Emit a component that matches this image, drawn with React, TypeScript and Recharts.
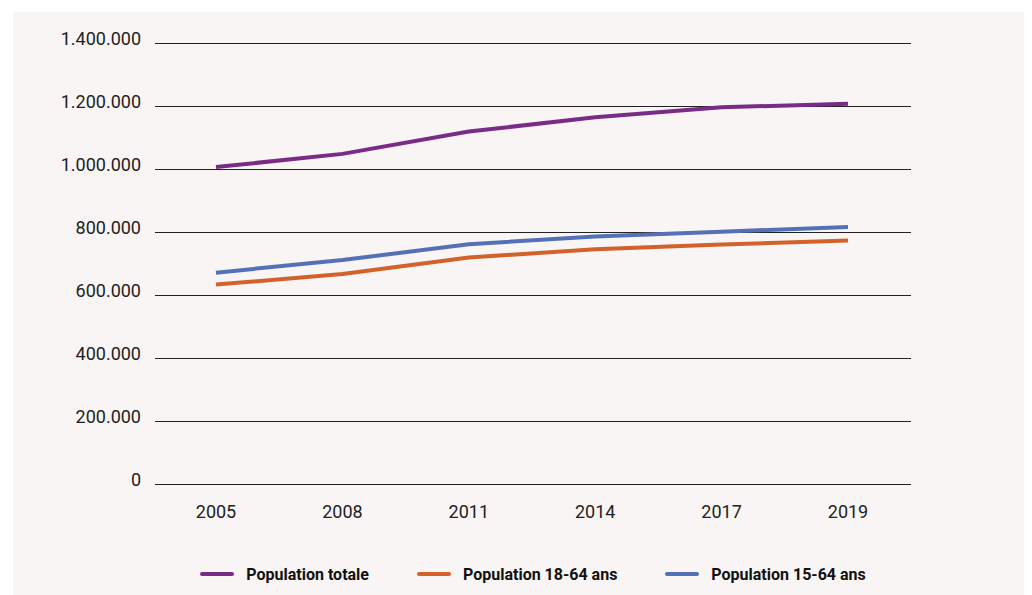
import { LineChart, Line, XAxis, YAxis, CartesianGrid, Legend } from "recharts"

const years = ["2005", "2008", "2011", "2014", "2017", "2019"]
const populationTotale = [1006000, 1048000, 1119000, 1164000, 1196000, 1207000]
const population1864 = [633000, 667000, 719000, 745000, 760000, 773000]
const population1564 = [671000, 711000, 761000, 786000, 801000, 816000]
const yTicks = [0, 200000, 400000, 600000, 800000, 1000000, 1200000, 1400000]

const series = [
    { key: "totale", name: "Population totale", color: "#7a2b86" },
    { key: "p1864", name: "Population 18-64 ans", color: "#d2622a" },
    { key: "p1564", name: "Population 15-64 ans", color: "#5470b6" },
]

const data = years.map((year, i) => ({
    year,
    totale: populationTotale[i],
    p1864: population1864[i],
    p1564: population1564[i],
}))

const formatNumber = (v: number) =>
    String(v).replace(/\B(?=(\d{3})+(?!\d))/g, ".")

const font = "Roboto, 'Liberation Sans', sans-serif"

function YTick(props: any) {
    const { x, y, payload } = props
    return (
        <text
            x={x}
            y={y}
            dy={1.5}
            textAnchor="end"
            fontSize={18}
            fontFamily={font}
            fill="#222"
        >
            {formatNumber(payload.value)}
        </text>
    )
}

function LegendContent() {
    return (
        <div
            style={{
                height: 20,
                display: "flex",
                justifyContent: "center",
                alignItems: "center",
                gap: 48,
                fontFamily: font,
            }}
        >
            {series.map((s) => (
                <div
                    key={s.key}
                    style={{ display: "flex", alignItems: "center" }}
                >
                    <span
                        style={{
                            display: "inline-block",
                            width: 34,
                            height: 4,
                            borderRadius: 2,
                            background: s.color,
                            marginRight: 12,
                        }}
                    />
                    <span
                        style={{
                            fontSize: 16,
                            fontWeight: 700,
                            color: "#111",
                        }}
                    >
                        {s.name}
                    </span>
                </div>
            ))}
        </div>
    )
}

export default function App() {
    return (
        <div
            style={{
                position: "relative",
                left: 5,
                top: 4,
                width: 1014,
                height: 592,
                background: "#f8f5f4",
            }}
        >
            <LineChart
                width={1014}
                height={583}
                data={data}
                margin={{ top: 31, right: 116, left: 12, bottom: 61 }}
            >
                <CartesianGrid
                    vertical={false}
                    stroke="#222"
                    strokeWidth={1}
                    shapeRendering="crispEdges"
                />
                <XAxis
                    dataKey="year"
                    axisLine={false}
                    tickLine={false}
                    tickMargin={15}
                    padding={{ left: 61, right: 63 }}
                    tick={{ fontSize: 18, fill: "#222", fontFamily: font }}
                />
                <YAxis
                    width={130}
                    domain={[0, 1400000]}
                    ticks={yTicks}
                    axisLine={false}
                    tickLine={false}
                    tickMargin={8}
                    tick={<YTick />}
                />
                <Legend
                    verticalAlign="bottom"
                    content={<LegendContent />}
                    wrapperStyle={{ left: 142, width: 756, bottom: 11 }}
                />
                {series.map((s) => (
                    <Line
                        key={s.key}
                        type="linear"
                        dataKey={s.key}
                        name={s.name}
                        stroke={s.color}
                        strokeWidth={4}
                        dot={false}
                        activeDot={false}
                        isAnimationActive={false}
                    />
                ))}
            </LineChart>
        </div>
    )
}
